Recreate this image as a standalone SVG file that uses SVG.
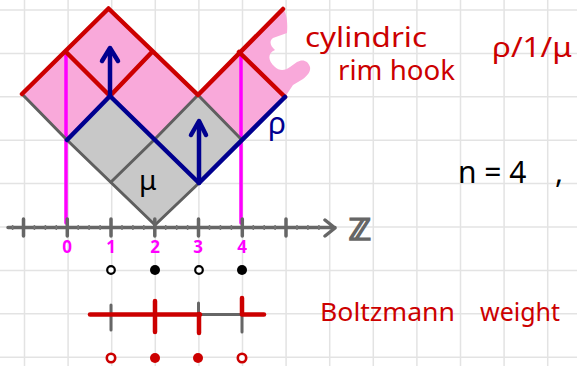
<svg xmlns="http://www.w3.org/2000/svg" width="577" height="366" viewBox="0 0 577 366">
<defs>
<style>
.grid{stroke:#e3e3e3;stroke-width:1.5;fill:none}
.red{stroke:#cc0000;stroke-width:4.5;fill:none;stroke-linecap:round;stroke-linejoin:round}
.blue{stroke:#00008f;stroke-width:4.5;fill:none;stroke-linecap:round;stroke-linejoin:round}
.gline{stroke:#5f5f5f;stroke-width:3;fill:none;stroke-linecap:round;stroke-linejoin:round}
.mag{stroke:#ff00ff;stroke-width:3.5;fill:none;stroke-linecap:round}
.ax{stroke:#666;stroke-width:3.5;fill:none;stroke-linecap:round;stroke-linejoin:round}
.minor{stroke:#777;stroke-width:1.5;fill:none}
.t{font-family:"Noto Sans","DejaVu Sans",sans-serif}
.rt{fill:#cc0000}
.dig{fill:#ff00ff;font-weight:bold;font-size:17px;text-anchor:middle}
</style>
</defs>
<rect width="577" height="366" fill="#ffffff"/>
<g id="grid" class="grid">
<path d="M24.5,0V366M68.1,0V366M111.7,0V366M155.3,0V366M198.9,0V366M242.5,0V366M286.1,0V366M329.7,0V366M373.3,0V366M416.9,0V366M460.5,0V366M504.1,0V366M547.7,0V366"/>
<path d="M0,10H577M0,53.4H577M0,96.8H577M0,140.2H577M0,183.6H577M0,227H577M0,270.4H577M0,313.8H577M0,357.2H577"/>
</g>
<g id="rimhook-fill">
<path fill="#f9a9da" d="M22,94 L108.5,8.5 L198,95 L283,9 C286,12 288,20 287,33 L273,38 C269,41 270,46 275,50 C268,53 267,60 275,67 C279,71 285,71 290,67 L297,62 C302,59 308,60 310,67 C311,72 307,76 303,79 L293,85 L285,97 L241,139 L198,95 L154,140 L110,96 L67,140 Z"/>
</g>
<g id="mu-fill">
<path fill="#c8c8c8" d="M155,225 L67,140 L110,96 L154,140 L198,95 L241,139 L199,183 Z"/>
</g>
<g id="magenta-lines" class="mag">
<line x1="66" y1="53" x2="66" y2="223"/>
<line x1="241" y1="53" x2="241" y2="223"/>
</g>
<g id="gray-edges" class="gline">
<polyline points="22,94 67,140 155,225 199,183"/>
<line x1="111" y1="182" x2="154" y2="140"/>
<polyline points="154,140 198,95 241,139"/>
</g>
<g id="red-edges" class="red">
<polyline points="22,94 108.5,8.5 198,95 283,9"/>
<line x1="66" y1="52" x2="110" y2="96"/>
<line x1="152" y1="52" x2="110" y2="96"/>
<line x1="239" y1="52" x2="285" y2="97"/>
</g>
<g id="rho-path" class="blue">
<polyline points="67,140 110,96 199,183 285,97"/>
<line x1="110" y1="96" x2="110" y2="49"/>
<polyline points="102,61 110,48 118,61"/>
<line x1="199" y1="183" x2="199" y2="122"/>
<polyline points="191,135 199,121 206,135"/>
</g>
<g id="axis">
<path class="ax" d="M8,227.5H335M325,220L335,228L325,236"/>
<path class="ax" d="M23.5,219V236M67.3,219V236M111,219V236M154.8,219V236M198.5,219V236M242.3,219V236M286,219V236"/>
<path class="minor" d="M12.6,225V230M34.4,225V230M45.4,225V230M56.3,225V230M78.2,225V230M89.1,225V230M100.1,225V230M122,225V230M132.9,225V230M143.8,225V230M165.7,225V230M176.7,225V230M187.6,225V230M209.5,225V230M220.4,225V230M231.4,225V230M253.3,225V230M264.2,225V230M275.1,225V230M297,225V230M307.9,225V230M318.9,225V230"/>
<text x="360" y="240" font-size="30" fill="#666" stroke="#666" stroke-width="1.6" text-anchor="middle" font-family="DejaVu Sans, sans-serif" font-weight="bold">ℤ</text>
</g>
<g id="axis-labels" class="t">
<text class="dig t" x="67" y="253">0</text>
<text class="dig t" x="111" y="253">1</text>
<text class="dig t" x="155" y="253">2</text>
<text class="dig t" x="198" y="253">3</text>
<text class="dig t" x="242" y="253">4</text>
</g>
<g id="particles">
<circle cx="111" cy="270" r="3.8" fill="#fff" stroke="#000" stroke-width="2.2"/>
<circle cx="155" cy="270" r="5" fill="#000"/>
<circle cx="199" cy="270" r="3.8" fill="#fff" stroke="#000" stroke-width="2.2"/>
<circle cx="242" cy="270" r="5" fill="#000"/>
</g>
<g id="boltzmann">
<line x1="90" y1="314.5" x2="264" y2="314.5" stroke="#666" stroke-width="3" stroke-linecap="round"/>
<line x1="111" y1="305" x2="111" y2="330" stroke="#666" stroke-width="3" stroke-linecap="round"/>
<line x1="198.5" y1="303" x2="198.5" y2="314" stroke="#666" stroke-width="3" stroke-linecap="round"/>
<line x1="242" y1="314" x2="242" y2="332" stroke="#666" stroke-width="3" stroke-linecap="round"/>
<g class="red">
<line x1="90" y1="314.5" x2="200" y2="314.5"/>
<line x1="242" y1="314.5" x2="264" y2="314.5"/>
<line x1="155" y1="301" x2="155" y2="332"/>
<line x1="199" y1="314" x2="199" y2="333"/>
<line x1="242" y1="298" x2="242" y2="314"/>
</g>
<circle cx="111" cy="358" r="4.2" fill="#fff" stroke="#cc0000" stroke-width="2.6"/>
<circle cx="155" cy="358" r="5" fill="#cc0000"/>
<circle cx="198" cy="358" r="5" fill="#cc0000"/>
<circle cx="242" cy="358" r="4.2" fill="#fff" stroke="#cc0000" stroke-width="2.6"/>
</g>
<g id="labels" class="t">
<text class="t" x="139" y="190" font-size="28" fill="#000">μ</text>
<text class="t" x="268" y="134" font-size="30" fill="#00008f">ρ</text>
<text class="t rt" x="305" y="47" font-size="27" textLength="122" lengthAdjust="spacingAndGlyphs">cylindric</text>
<text class="t rt" x="338" y="80" font-size="28" textLength="117" lengthAdjust="spacingAndGlyphs">rim hook</text>
<text class="t rt" x="492" y="57" font-size="27" textLength="80" lengthAdjust="spacingAndGlyphs">ρ/1/μ</text>
<text class="t" font-size="30" fill="#000" y="183"><tspan x="458">n = 4</tspan><tspan x="555">,</tspan></text>
<text class="t rt" font-size="25" y="321"><tspan x="320" textLength="135" lengthAdjust="spacingAndGlyphs">Boltzmann</tspan><tspan x="480" textLength="80" lengthAdjust="spacingAndGlyphs">weight</tspan></text>
</g>
</svg>
